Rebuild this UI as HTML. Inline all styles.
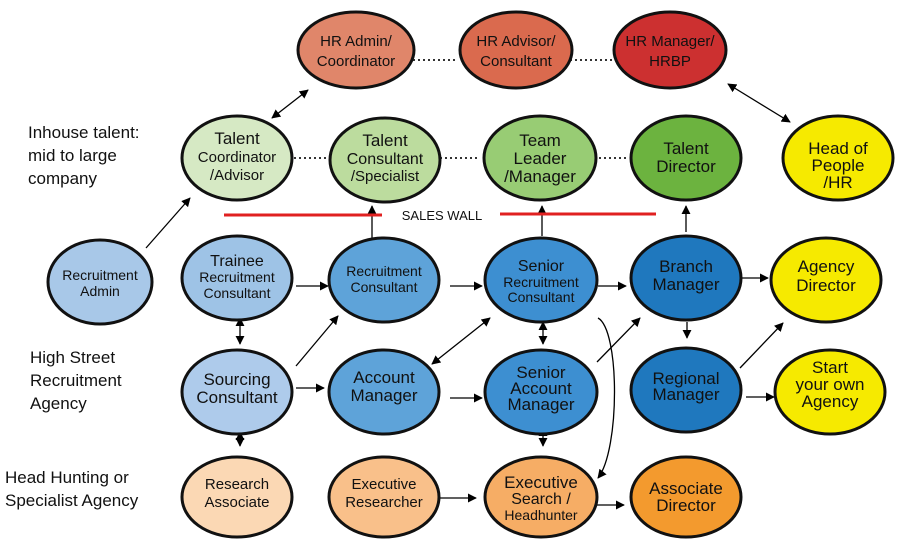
<!DOCTYPE html>
<html><head><meta charset="utf-8"><style>
html,body{margin:0;padding:0;background:#fff}
svg{display:block}
text{font-family:"Liberation Sans",sans-serif;fill:#111;text-anchor:middle}
.l{text-anchor:start;font-size:17px}
</style></head><body>
<svg width="899" height="542" viewBox="0 0 899 542" xmlns="http://www.w3.org/2000/svg">
<defs>
<marker id="a" viewBox="0 0 10 10" refX="9" refY="5" markerWidth="7" markerHeight="7" orient="auto-start-reverse"><path d="M0,0L10,5L0,10z" fill="#000"/></marker>
</defs>
<g stroke="#000" stroke-width="1.3" fill="none">
<line x1="272" y1="118" x2="308" y2="90" marker-start="url(#a)" marker-end="url(#a)"/>
<line x1="728" y1="84" x2="790" y2="122" marker-start="url(#a)" marker-end="url(#a)"/>
<line x1="146" y1="248" x2="190" y2="198" marker-end="url(#a)"/>
<line x1="372" y1="238" x2="372" y2="206" marker-end="url(#a)"/>
<line x1="542" y1="236" x2="542" y2="206" marker-end="url(#a)"/>
<line x1="686" y1="232" x2="686" y2="206" marker-end="url(#a)"/>
<line x1="296" y1="286" x2="328" y2="286" marker-end="url(#a)"/>
<line x1="450" y1="286" x2="482" y2="286" marker-end="url(#a)"/>
<line x1="598" y1="286" x2="626" y2="286" marker-end="url(#a)"/>
<line x1="740" y1="278" x2="768" y2="278" marker-end="url(#a)"/>
<line x1="240" y1="318" x2="240" y2="344" marker-start="url(#a)" marker-end="url(#a)"/>
<line x1="296" y1="366" x2="338" y2="316" marker-end="url(#a)"/>
<line x1="296" y1="388" x2="324" y2="388" marker-end="url(#a)"/>
<line x1="432" y1="364" x2="490" y2="318" marker-start="url(#a)" marker-end="url(#a)"/>
<line x1="450" y1="398" x2="482" y2="398" marker-end="url(#a)"/>
<line x1="543" y1="322" x2="543" y2="344" marker-start="url(#a)" marker-end="url(#a)"/>
<line x1="597" y1="362" x2="640" y2="318" marker-end="url(#a)"/>
<line x1="687" y1="322" x2="687" y2="338" marker-end="url(#a)"/>
<line x1="740" y1="368" x2="783" y2="323" marker-end="url(#a)"/>
<line x1="746" y1="397" x2="774" y2="397" marker-end="url(#a)"/>
<line x1="240" y1="432" x2="240" y2="446" marker-start="url(#a)" marker-end="url(#a)"/>
<line x1="543" y1="428" x2="543" y2="446" marker-start="url(#a)" marker-end="url(#a)"/>
<line x1="432" y1="498" x2="476" y2="498" marker-end="url(#a)"/>
<line x1="593" y1="505" x2="624" y2="505" marker-end="url(#a)"/>
<path d="M598,318 C620,330 620,450 598,478" marker-end="url(#a)"/>
</g>
<g stroke="#333" stroke-width="2" stroke-dasharray="2,3">
<line x1="413" y1="60" x2="458" y2="60"/><line x1="565" y1="60" x2="615" y2="60"/>
<line x1="294" y1="158" x2="330" y2="158"/><line x1="440" y1="158" x2="480" y2="158"/><line x1="594" y1="158" x2="628" y2="158"/>
</g>
<line x1="224" y1="215" x2="382" y2="215" stroke="#e02020" stroke-width="3"/>
<line x1="500" y1="214" x2="656" y2="214" stroke="#e02020" stroke-width="3"/>
<text x="442" y="220" style="font-size:13px">SALES WALL</text>
<g stroke="#111" stroke-width="3">
<ellipse cx="356" cy="50" rx="58" ry="38" fill="#e0866a"/>
<ellipse cx="516" cy="50" rx="56" ry="38" fill="#da6a4e"/>
<ellipse cx="670" cy="50" rx="56" ry="38" fill="#cc3030"/>
<ellipse cx="237" cy="158" rx="55" ry="42" fill="#d6e9c4"/>
<ellipse cx="385" cy="160" rx="55" ry="42" fill="#bcdc9e"/>
<ellipse cx="540" cy="158" rx="56" ry="42" fill="#98cc74"/>
<ellipse cx="686" cy="158" rx="55" ry="42" fill="#6cb33f"/>
<ellipse cx="838" cy="158" rx="55" ry="42" fill="#f6ea00"/>
<ellipse cx="100" cy="282" rx="52" ry="42" fill="#a8c8e8"/>
<ellipse cx="237" cy="278" rx="55" ry="42" fill="#9ec3e6"/>
<ellipse cx="384" cy="280" rx="55" ry="42" fill="#5ea3d9"/>
<ellipse cx="541" cy="280" rx="56" ry="42" fill="#3d8fd1"/>
<ellipse cx="686" cy="278" rx="55" ry="42" fill="#1f78be"/>
<ellipse cx="826" cy="280" rx="55" ry="42" fill="#f6ea00"/>
<ellipse cx="237" cy="392" rx="55" ry="42" fill="#aecbeb"/>
<ellipse cx="384" cy="392" rx="55" ry="42" fill="#5ea3d9"/>
<ellipse cx="541" cy="392" rx="56" ry="42" fill="#3d8fd1"/>
<ellipse cx="686" cy="390" rx="55" ry="42" fill="#1f78be"/>
<ellipse cx="830" cy="392" rx="55" ry="42" fill="#f6ea00"/>
<ellipse cx="237" cy="497" rx="55" ry="40" fill="#fbd8b4"/>
<ellipse cx="384" cy="497" rx="55" ry="40" fill="#f9c08a"/>
<ellipse cx="541" cy="497" rx="56" ry="40" fill="#f6ad65"/>
<ellipse cx="686" cy="497" rx="55" ry="40" fill="#f39a2e"/>
</g>
<g style="font-size:15px">
<text x="356" y="46">HR Admin/</text><text x="356" y="66">Coordinator</text>
<text x="516" y="46">HR Advisor/</text><text x="516" y="66">Consultant</text>
<text x="670" y="46">HR Manager/</text><text x="670" y="66">HRBP</text>
<text x="237" y="144" style="font-size:17px">Talent</text><text x="237" y="162">Coordinator</text><text x="237" y="180">/Advisor</text>
<text x="385" y="146" style="font-size:17px">Talent</text><text x="385" y="164" style="font-size:16px">Consultant</text><text x="385" y="181">/Specialist</text>
<text x="540" y="146" style="font-size:17px">Team</text><text x="540" y="164" style="font-size:17px">Leader</text><text x="540" y="182" style="font-size:17px">/Manager</text>
<text x="686" y="154" style="font-size:17px">Talent</text><text x="686" y="172" style="font-size:17px">Director</text>
<text x="838" y="154" style="font-size:17px">Head of</text><text x="838" y="171" style="font-size:17px">People</text><text x="838" y="188" style="font-size:17px">/HR</text>
<text x="100" y="280" style="font-size:14px">Recruitment</text><text x="100" y="296" style="font-size:14px">Admin</text>
<text x="237" y="266" style="font-size:16px">Trainee</text><text x="237" y="282" style="font-size:14px">Recruitment</text><text x="237" y="298" style="font-size:14px">Consultant</text>
<text x="384" y="276" style="font-size:14px">Recruitment</text><text x="384" y="292" style="font-size:14px">Consultant</text>
<text x="541" y="271" style="font-size:16px">Senior</text><text x="541" y="287" style="font-size:14px">Recruitment</text><text x="541" y="302" style="font-size:14px">Consultant</text>
<text x="686" y="272" style="font-size:17px">Branch</text><text x="686" y="290" style="font-size:17px">Manager</text>
<text x="826" y="272" style="font-size:17px">Agency</text><text x="826" y="291" style="font-size:17px">Director</text>
<text x="237" y="385" style="font-size:17px">Sourcing</text><text x="237" y="403" style="font-size:17px">Consultant</text>
<text x="384" y="383" style="font-size:17px">Account</text><text x="384" y="401" style="font-size:17px">Manager</text>
<text x="541" y="378" style="font-size:17px">Senior</text><text x="541" y="394" style="font-size:17px">Account</text><text x="541" y="410" style="font-size:17px">Manager</text>
<text x="686" y="384" style="font-size:17px">Regional</text><text x="686" y="400" style="font-size:17px">Manager</text>
<text x="830" y="373" style="font-size:17px">Start</text><text x="830" y="390" style="font-size:17px">your own</text><text x="830" y="407" style="font-size:17px">Agency</text>
<text x="237" y="489">Research</text><text x="237" y="507">Associate</text>
<text x="384" y="489">Executive</text><text x="384" y="507">Researcher</text>
<text x="541" y="488" style="font-size:17px">Executive</text><text x="541" y="504" style="font-size:16px">Search /</text><text x="541" y="520" style="font-size:14px">Headhunter</text>
<text x="686" y="494" style="font-size:17px">Associate</text><text x="686" y="511" style="font-size:17px">Director</text>
</g>
<text class="l" x="28" y="138">Inhouse talent:</text>
<text class="l" x="28" y="161">mid to large</text>
<text class="l" x="28" y="184">company</text>
<text class="l" x="30" y="363">High Street</text>
<text class="l" x="30" y="386">Recruitment</text>
<text class="l" x="30" y="409">Agency</text>
<text class="l" x="5" y="483">Head Hunting or</text>
<text class="l" x="5" y="506">Specialist Agency</text>
</svg>
</body></html>
